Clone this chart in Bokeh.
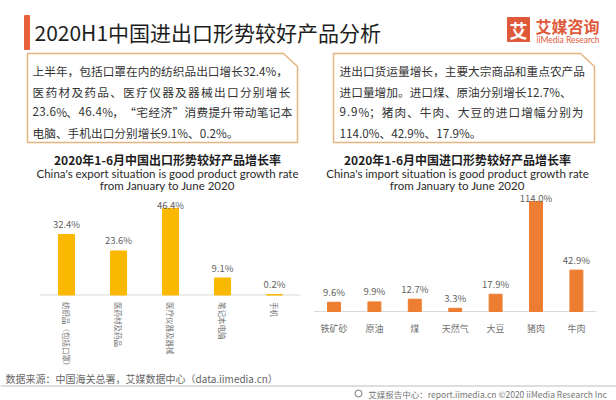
import math
from bokeh.plotting import figure
from bokeh.models import Range1d
from bokeh.core.properties import value
from bokeh.embed import file_html
from bokeh.resources import INLINE

# ---------------- data ----------------
export_cats = ["纺织品（包括口罩）", "医药材及药品", "医疗仪器及器械", "笔记本电脑", "手机"]
export_vals = [32.4, 23.6, 46.4, 9.1, 0.2]
import_cats = ["铁矿砂", "原油", "煤", "天然气", "大豆", "猪肉", "牛肉"]
import_vals = [9.6, 9.9, 12.7, 3.3, 17.9, 114.0, 42.9]

main_title = "2020H1中国进出口形势较好产品分析"
left_lines = ["上半年，包括口罩在内的纺织品出口增长32.4%，",
              "医药材及药品、医疗仪器及器械出口分别增长",
              "23.6%、46.4%，“宅经济”消费提升带动笔记本",
              "电脑、手机出口分别增长9.1%、0.2%。"]
right_lines = ["进出口货运量增长，主要大宗商品和重点农产品",
               "进口量增加。进口煤、原油分别增长12.7%、",
               "9.9%；猪肉、牛肉、大豆的进口增幅分别为",
               "114.0%、42.9%、17.9%。"]
export_title = "2020年1-6月中国出口形势较好产品增长率"
import_title = "2020年1-6月中国进口形势较好产品增长率"
export_sub = ["China's export situation is good product growth rate", "from January to June 2020"]
import_sub = ["China's import situation is good product growth rate", "from January to June 2020"]
source_text = "数据来源：中国海关总署，艾媒数据中心（data.iimedia.cn）"
footer_text = "艾媒报告中心：report.iimedia.cn   ©2020  iiMedia Research Inc"
logo_cn = "艾媒咨询"
logo_en = "iiMedia Research"

# ---------------- style ----------------
CJK = value("Noto Sans CJK SC")
LAT = value("Lato")
ORANGE = "#E8603C"
BOX = "#E3B47F"
TXT = "#333333"
GRAY = "#5F5F5F"
EXP_COLOR = "#FAB900"
IMP_COLOR = "#ED7D31"

W, H = 616, 400
p = figure(width=W, height=H, x_range=Range1d(0, W), y_range=Range1d(H, 0),
           output_backend="svg", toolbar_location=None, min_border=0,
           x_axis_type=None, y_axis_type=None)
p.grid.visible = False
p.outline_line_color = None
p.background_fill_color = "white"
p.border_fill_color = "white"

# chart scales (layout only): category position & px per unit
EX0, EXS, EY0, EYS = 66.0, 52.0, 294.5, 1.867
IX0, IXS, IY0, IYS = 333.5, 40.4, 311.0, 0.965
p.extra_x_ranges = {
    "ex": Range1d((0 - EX0) / EXS, (W - EX0) / EXS),
    "ix": Range1d((0 - IX0) / IXS, (W - IX0) / IXS),
}
p.extra_y_ranges = {
    "ey": Range1d((EY0 - H) / EYS, EY0 / EYS),
    "iy": Range1d((IY0 - H) / IYS, IY0 / IYS),
}

# ---------------- header ----------------
p.quad(left=[24], right=[29], top=[15], bottom=[49], color=ORANGE)
p.text(x=[34], y=[31], text=[main_title], text_font=CJK, text_font_size="21px",
       text_color="#1E1E1E", text_baseline="middle", text_align="left")
p.quad(left=[507], right=[529], top=[17], bottom=[41], color="#DE5A3A")
p.text(x=[518], y=[29], text=["艾"], text_font=CJK, text_font_size="18px",
       text_font_style="bold", text_color="white", text_baseline="middle", text_align="center")
p.text(x=[535], y=[25], text=[logo_cn], text_font=CJK, text_font_size="16px",
       text_font_style="bold", text_color="#DE5A3A", text_baseline="middle", text_align="left")
p.text(x=[536], y=[39.5], text=[logo_en], text_font=LAT, text_font_size="8.5px",
       text_color="#DE5A3A", text_baseline="middle", text_align="left")

# ---------------- text boxes ----------------
def box(x0, x1, y0, y1, cut=14):
    p.patch(x=[x0, x1 - cut, x1, x1, x0], y=[y0, y0, y0 + cut - 1, y1, y1],
            fill_color="white", line_color=BOX, line_width=1.5)

box(27, 297, 53, 142)
box(333, 594, 53, 142)


def cw(c):
    if ord(c) > 0x2000:
        return 1.0
    if c.isdigit():
        return 0.55
    if c == ".":
        return 0.27
    if c == "%":
        return 0.83
    return 0.5


def line(x0, y, s, fs, right=None):
    if right is None:
        p.text(x=[x0], y=[y], text=[s], text_font=CJK, text_font_size=f"{fs}px",
               text_color=TXT, text_baseline="middle", text_align="left")
        return
    ws = [cw(c) * fs for c in s]
    extra = (right - x0 - sum(ws)) / (len(s) - 1)
    xs, cur = [], x0
    for w in ws:
        xs.append(cur)
        cur += w + extra
    p.text(x=xs, y=[y] * len(s), text=list(s), text_font=CJK, text_font_size=f"{fs}px",
           text_color=TXT, text_baseline="middle", text_align="left")


FS = 11.7
ys = [70, 91, 111, 132]
just_left = [None, 290, 292, None]
just_right = [None, None, 583, None]
for s, y, r in zip(left_lines, ys, just_left):
    line(32, y, s, FS, r)
for s, y, r in zip(right_lines, ys, just_right):
    line(339, y, s, FS, r)

# ---------------- chart titles ----------------
for cx, t, sub in [(167, export_title, export_sub), (457, import_title, import_sub)]:
    p.text(x=[cx], y=[159], text=[t], text_font=CJK, text_font_size="12px",
           text_font_style="bold", text_color="#1E1E1E", text_baseline="middle", text_align="center")
    p.text(x=[cx, cx], y=[173, 185], text=sub, text_font=LAT, text_font_size="11.5px",
           text_color="#2A2A2A", text_baseline="middle", text_align="center")

# ---------------- export chart ----------------
ex_idx = list(range(len(export_vals)))
p.segment(x0=[-0.5], x1=[len(export_vals) - 0.5], y0=[0], y1=[0], line_color="#D9D9D9",
          line_width=1, x_range_name="ex", y_range_name="ey")
p.vbar(x=ex_idx, top=export_vals, bottom=0, width=0.31, color=EXP_COLOR,
       x_range_name="ex", y_range_name="ey")
ex_off = []
for v in export_vals:
    top_px = EY0 - v * EYS
    lab = max(top_px - 10.5, 204)
    ex_off.append(lab - top_px)
p.text(x=ex_idx, y=export_vals, text=[f"{v:.1f}%" for v in export_vals], y_offset=ex_off,
       text_font=CJK, text_font_size="9.5px", text_color=GRAY, text_baseline="middle",
       text_align="center", x_range_name="ex", y_range_name="ey")
p.text(x=ex_idx, y=[0] * len(ex_idx), text=export_cats, angle=-math.pi / 2, y_offset=7,
       text_font=CJK, text_font_size="7.5px", text_color="#707070", text_baseline="middle",
       text_align="left", x_range_name="ex", y_range_name="ey")

# ---------------- import chart ----------------
im_idx = list(range(len(import_vals)))
p.segment(x0=[-0.5], x1=[len(import_vals) - 0.5], y0=[0], y1=[0], line_color="#D9D9D9",
          line_width=1, x_range_name="ix", y_range_name="iy")
p.vbar(x=im_idx, top=import_vals, bottom=0, width=0.32, color=IMP_COLOR,
       x_range_name="ix", y_range_name="iy")
im_off = []
for v in import_vals:
    top_px = IY0 - v * IYS
    lab = max(top_px - 10.5, 197)
    im_off.append(lab - top_px)
p.text(x=im_idx, y=import_vals, text=[f"{v:.1f}%" for v in import_vals], y_offset=im_off,
       text_font=CJK, text_font_size="9.5px", text_color=GRAY, text_baseline="middle",
       text_align="center", x_range_name="ix", y_range_name="iy")
p.text(x=im_idx, y=[0] * len(im_idx), text=import_cats, y_offset=17,
       text_font=CJK, text_font_size="9px", text_color="#707070", text_baseline="middle",
       text_align="center", x_range_name="ix", y_range_name="iy")

# ---------------- footer ----------------
p.text(x=[5], y=[378], text=[source_text], text_font=CJK, text_font_size="10px",
       text_color="#666666", text_baseline="middle", text_align="left")
p.segment(x0=[0], x1=[W], y0=[385.5], y1=[385.5], line_color="#BDBDBD", line_width=1)
p.circle(x=[358], y=[393], radius=3.5, radius_units="screen", fill_color=None,
         line_color="#777777", line_width=1)
p.text(x=[612], y=[393], text=[footer_text], text_font=CJK, text_font_size="8.5px",
       text_color="#777777", text_baseline="middle", text_align="right")

open("out.html", "w").write(file_html(p, INLINE))
